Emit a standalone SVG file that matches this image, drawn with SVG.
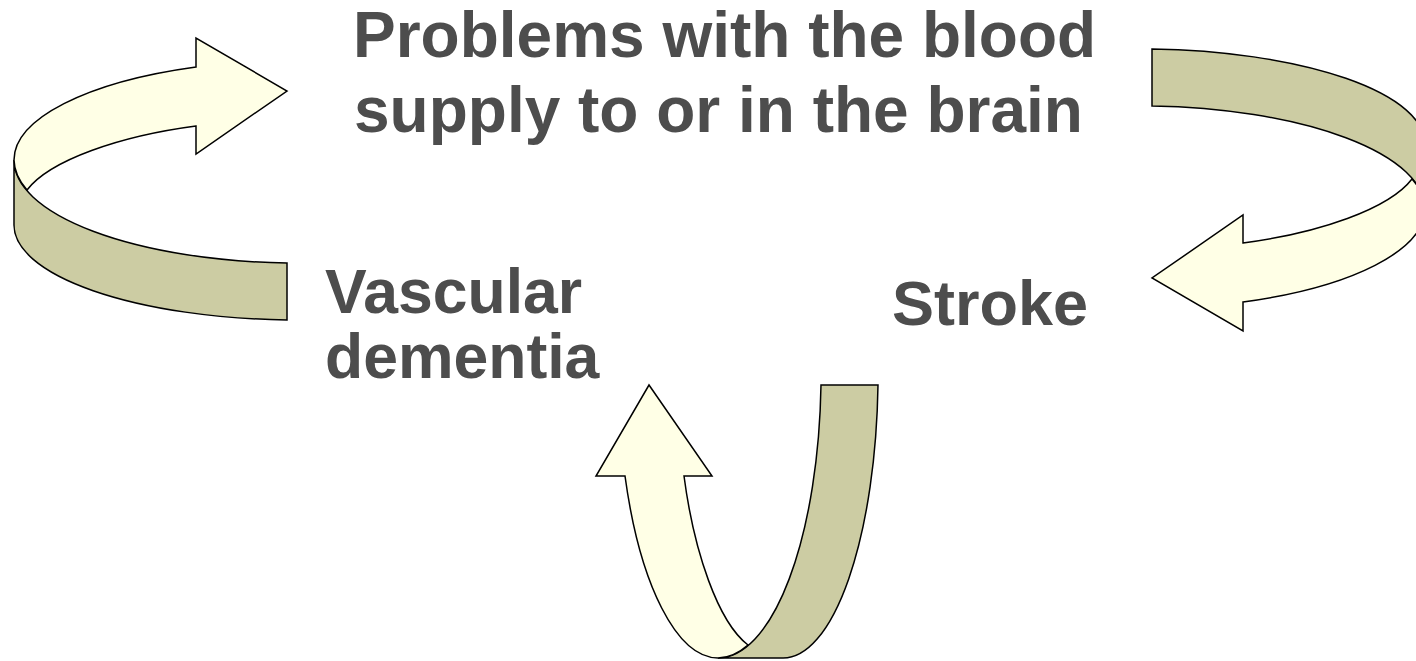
<svg xmlns="http://www.w3.org/2000/svg" width="1416" height="661" viewBox="0 0 1416 661">
<style>
.light{fill:#FFFFE6;stroke:#000;stroke-width:1.5;stroke-linejoin:miter}
.dark{fill:#CCCCA3;stroke:#000;stroke-width:1.5;stroke-linejoin:miter}
.lbl{font-family:"Liberation Sans",Arial,sans-serif;font-weight:bold;fill:#4D4D4D}
</style>
<defs>
<g id="curl">
<path class="dark" d="M14,160 A286,103 0 0,0 287,263 L287,320 A286,95 0 0,1 14,225 Z"/>
<path class="light" d="M196,67 L196,38 L287,91 L196,154 L196,126 C120,136 50,160 27,190 A286,103 0 0,1 14,160 A286,100 0 0,1 196,67 Z"/>
</g>
</defs>
<g id="connectors">
<use id="arrow-left" href="#curl"/>
<use id="arrow-right" href="#curl" transform="rotate(180 719.5 184.5)"/>
<use id="arrow-bottom" href="#curl" transform="rotate(-90 615 57)"/>
</g>
<g id="node-problems">
<text class="lbl" font-size="64" x="353" y="57">Problems with the blood</text>
<text class="lbl" font-size="64" x="354" y="132">supply to or in the brain</text>
</g>
<g id="node-vascular">
<text class="lbl" font-size="62.5" x="325" y="313">Vascular</text>
<text class="lbl" font-size="62.5" x="325" y="378">dementia</text>
</g>
<g id="node-stroke">
<text class="lbl" font-size="63" x="892" y="325">Stroke</text>
</g>
</svg>
